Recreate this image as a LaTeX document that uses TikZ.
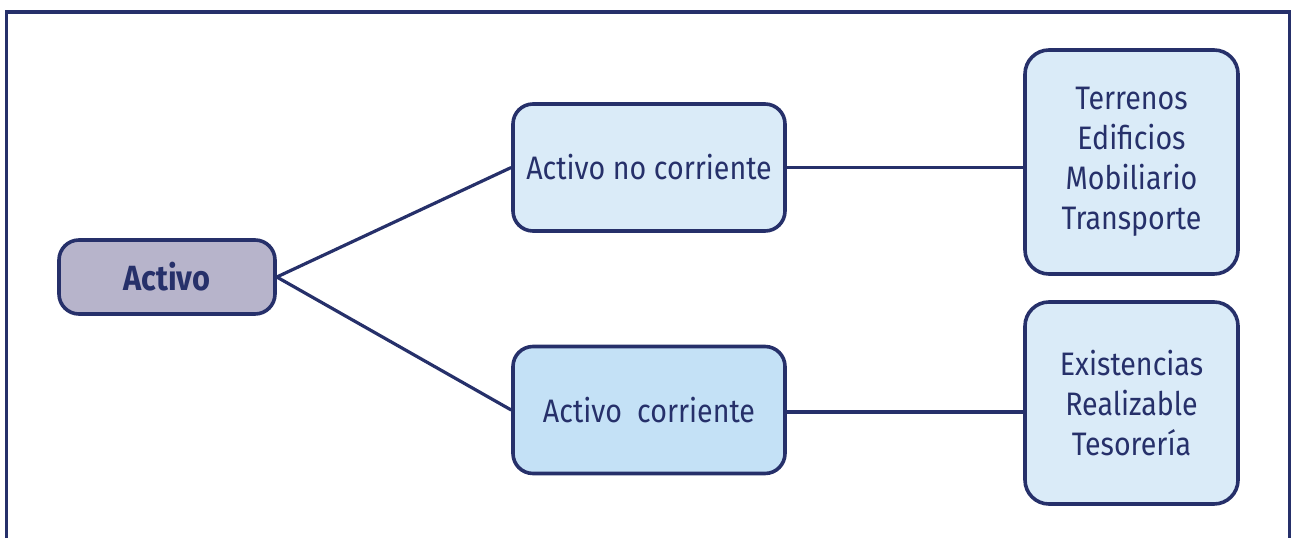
\documentclass[tikz,border=0pt]{standalone}
\usepackage{fontspec}
\setmainfont{Fira Sans}[FakeStretch=0.88]
\usepackage{tikz}
\usetikzlibrary{positioning}
\definecolor{navy}{RGB}{38,48,106}
\definecolor{lilac}{RGB}{183,180,203}
\definecolor{paleblue}{RGB}{218,235,248}
\definecolor{skyblue}{RGB}{196,225,246}

\begin{document}
\begin{tikzpicture}[
    x=1pt, y=-1pt,
    box/.style={rectangle, draw=navy, line width=3.6pt, rounded corners=20pt, align=center, text=navy, font=\fontsize{32.5}{40}\selectfont},
    root/.style={box, fill=lilac, minimum width=216pt, minimum height=74pt, font=\fontsize{35}{40}\selectfont\bfseries},
    group/.style={box, minimum width=272pt, minimum height=127pt},
    items/.style={box, fill=paleblue, minimum width=213pt, rounded corners=24pt},
    link/.style={draw=navy, line width=3.2pt},
    frame/.style={draw=navy, line width=3.4pt}
]
    \useasboundingbox (0,0) rectangle (1292,538);

    % Outer frame (runs off the bottom)
    \draw[frame] (6.5,538) -- (6.5,12) -- (1289.5,12) -- (1289.5,538);

    % Root
    \node[root] (activo) at (167,277) {Activo};

    % Groups
    \node[group, fill=paleblue] (noncurrent) at (649,167.5) {Activo no corriente};
    \node[group, fill=skyblue] (current) at (649,410) {Activo\ \ corriente};

    % Items of each group
    \node[items, minimum height=224pt] (fixed) at (1131.5,162) {Terrenos\\Edificios\\Mobiliario\\Transporte};
    \node[items, minimum height=202pt] (liquid) at (1131.5,403) {Existencias\\Realizable\\Tesorería};

    % Links
    \draw[link] (activo.east) -- (noncurrent.west);
    \draw[link] (activo.east) -- (current.west);
    \draw[link] (noncurrent.east) -- (noncurrent.east -| fixed.west);
    \draw[link] ([yshift=-2pt]current.east) -- ([yshift=-2pt]current.east -| liquid.west);

\end{tikzpicture}
\end{document}
